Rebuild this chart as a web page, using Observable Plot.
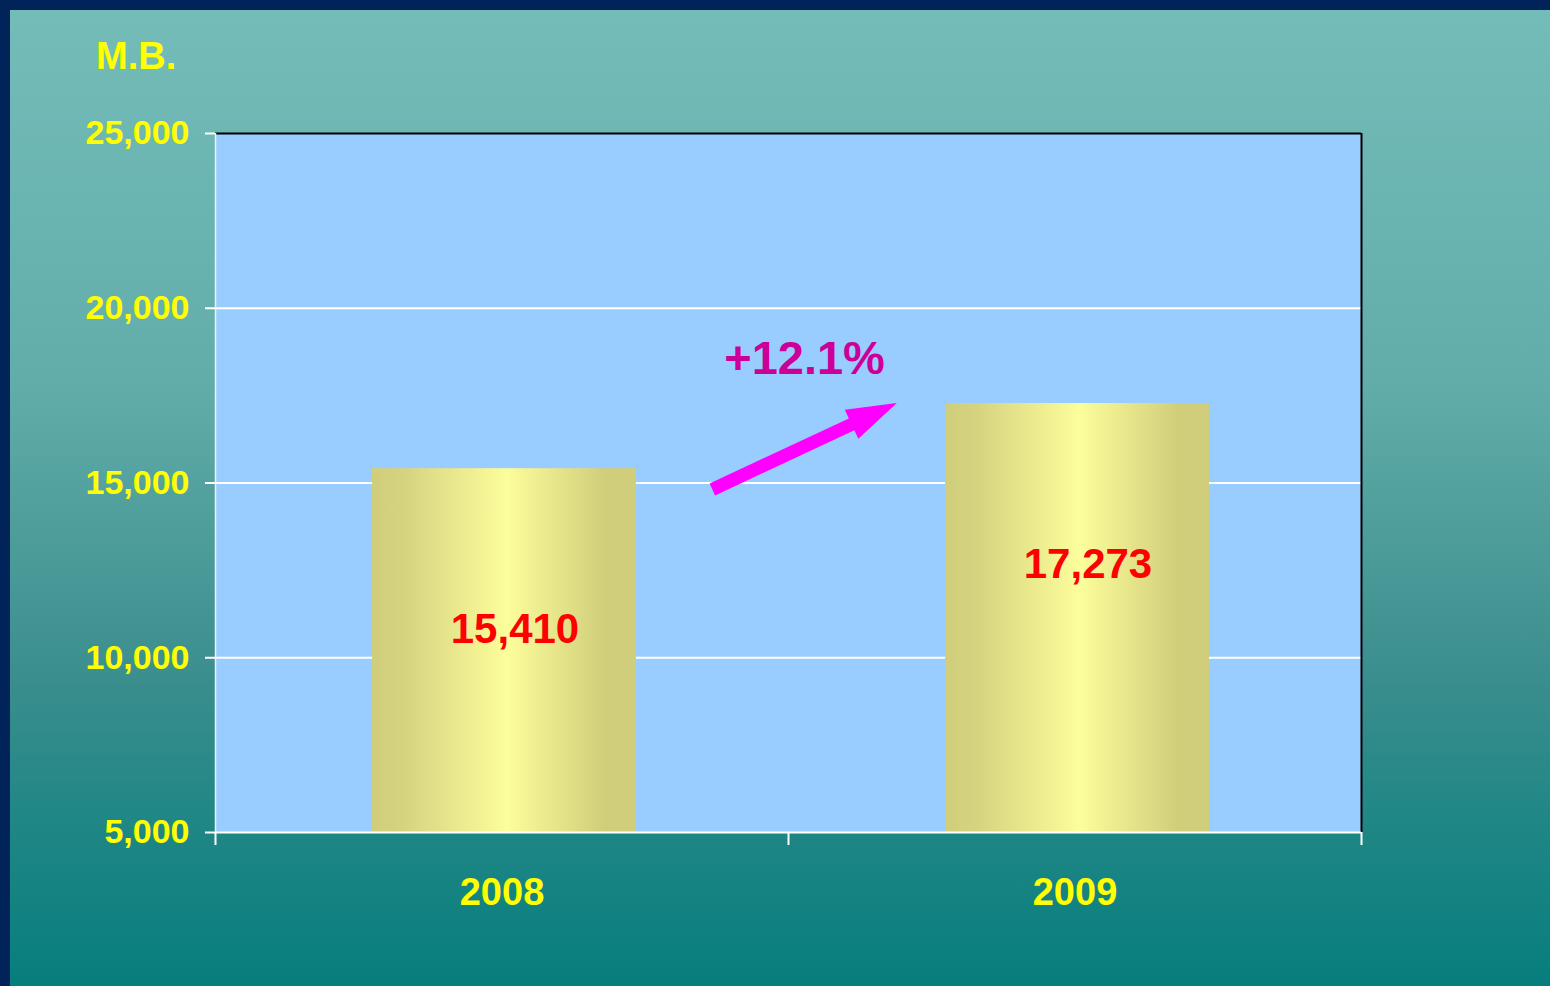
<!DOCTYPE html>
<html>
<head>
<meta charset="utf-8">
<script src="https://cdn.jsdelivr.net/npm/d3@7"></script>
<script src="https://cdn.jsdelivr.net/npm/@observablehq/plot@0.6"></script>
<style>
  html, body { margin: 0; padding: 0; }
  body { width: 1550px; height: 986px; overflow: hidden; position: relative; background: #00245A; font-family: "Liberation Sans", Arial, sans-serif; }
  #page { position: absolute; left: 10px; top: 10px; width: 1540px; height: 976px;
    background: linear-gradient(to bottom, #74BCB8 0%, #6AB4B1 20%, #62ADAA 38%, #3A8E8D 68.6%, #238887 81%, #067E7D 100%); }
  #chart { position: absolute; left: 0; top: 0; }
  #unit { position: absolute; left: 96px; top: 37px; color: #FFFF00; font-weight: bold; font-size: 38px; line-height: 38px; white-space: nowrap; }
</style>
</head>
<body>
<div id="page"></div>
<div id="chart"></div>
<div id="unit">M.B.</div>
<script>
// ---- data ----
const years = ["2008", "2009"];
const values = [15410, 17273];
const yTicks = [5000, 10000, 15000, 20000, 25000];
const yDomain = [5000, 25000];
const gridValues = [10000, 15000, 20000];
// growth annotation (data coordinates: x in category units, y in M.B.)
const arrowStart = [0.868, 14800];
const arrowEnd = [1.19, values[1]];
const growthLabelPos = [1.028, 18560];

const bars = years.map((year, i) => ({ i, year, value: values[i] }));
const growthText = d3.format("+.1%")(values[1] / values[0] - 1);
const arrows = [{ x1: arrowStart[0], y1: arrowStart[1], x2: arrowEnd[0], y2: arrowEnd[1] }];

const fmt = d3.format(",");

// gradient definitions
function gradientDefs(index, scales, values, dimensions, context) {
  const doc = context.document;
  const ns = "http://www.w3.org/2000/svg";
  const defs = doc.createElementNS(ns, "defs");
  const g = doc.createElementNS(ns, "linearGradient");
  g.setAttribute("id", "barGrad");
  g.setAttribute("x1", "0"); g.setAttribute("x2", "1");
  g.setAttribute("y1", "0"); g.setAttribute("y2", "0");
  [["0", "#D1CE7B"], ["0.12", "#D6D380"], ["0.51", "#FCFD9B"], ["0.88", "#D1CE7B"], ["1", "#D1CE7B"]].forEach(([o, c]) => {
    const s = doc.createElementNS(ns, "stop");
    s.setAttribute("offset", o); s.setAttribute("stop-color", c);
    g.appendChild(s);
  });
  defs.appendChild(g);
  return defs;
}

// filled block arrow drawn through the plot's scales
function blockArrow(index, scales, values, dimensions, context) {
  const doc = context.document;
  const ns = "http://www.w3.org/2000/svg";
  const grp = doc.createElementNS(ns, "g");
  const shaftHalf = 6.5, headHalf = 16, headLen = 50;
  for (const a of arrows) {
    const tx = scales.x(a.x1), ty = scales.y(a.y1);
    const px = scales.x(a.x2), py = scales.y(a.y2);
    const dx = px - tx, dy = py - ty, L = Math.hypot(dx, dy);
    const ux = dx / L, uy = dy / L, nx = -uy, ny = ux;
    const bx = px - ux * headLen, by = py - uy * headLen;
    const pts = [
      [tx + nx * shaftHalf, ty + ny * shaftHalf],
      [bx + nx * shaftHalf, by + ny * shaftHalf],
      [bx + nx * headHalf, by + ny * headHalf],
      [px, py],
      [bx - nx * headHalf, by - ny * headHalf],
      [bx - nx * shaftHalf, by - ny * shaftHalf],
      [tx - nx * shaftHalf, ty - ny * shaftHalf]
    ];
    const poly = doc.createElementNS(ns, "polygon");
    poly.setAttribute("points", pts.map(p => p.join(",")).join(" "));
    poly.setAttribute("fill", "#FF00FF");
    grp.appendChild(poly);
  }
  return grp;
}

const chart = Plot.plot({
  width: 1550,
  height: 986,
  marginLeft: 215,
  marginRight: 189,
  marginTop: 133,
  marginBottom: 154,
  x: { domain: [0, 2], label: null },
  y: { domain: yDomain, label: null },
  style: { background: "transparent", fontFamily: "'Liberation Sans', Arial, sans-serif", fontWeight: "bold", overflow: "visible" },
  marks: [
    gradientDefs,
    Plot.frame({ fill: "#99CCFF", stroke: "none" }),
    Plot.ruleY(gridValues, { stroke: "white", strokeWidth: 2 }),
    Plot.rectY(bars, { x1: d => d.i, x2: d => d.i + 1, y1: yDomain[0], y2: "value", insetLeft: 157, insetRight: 152, fill: "url(#barGrad)" }),
    Plot.ruleY([yDomain[1]], { stroke: "black", strokeWidth: 2 }),
    Plot.ruleX([2], { stroke: "black", strokeWidth: 2 }),
    Plot.ruleX([0], { stroke: "#F0F0F0", strokeWidth: 1.5 }),
    Plot.ruleY([yDomain[0]], { stroke: "white", strokeWidth: 2 }),
    Plot.axisY({ ticks: yTicks, tickFormat: fmt, tickSize: 10, tickPadding: 16, fontSize: 34, fontWeight: "bold", fill: "#FFFF00", stroke: "white", strokeWidth: 2, label: null }),
    Plot.axisX({ ticks: [0, 1, 2], tickFormat: () => "", tickSize: 13, stroke: "white", strokeWidth: 2, label: null }),
    Plot.axisX({ ticks: [0.5, 1.5], tickFormat: d => years[Math.floor(d)], tickSize: 0, tickPadding: 46, fontSize: 38, fontWeight: "bold", fill: "#FFFF00", label: null }),
    Plot.text(bars, { x: d => d.i + 0.5, y: "value", text: d => fmt(d.value), dx: 13, dy: 161, fill: "#FF0000", fontSize: 42, fontWeight: "bold" }),
    blockArrow,
    Plot.text([growthText], { x: () => growthLabelPos[0], y: () => growthLabelPos[1], text: d => d, fill: "#CC0099", fontSize: 47, fontWeight: "bold" })
  ]
});
document.getElementById("chart").appendChild(chart);
</script>
</body>
</html>
